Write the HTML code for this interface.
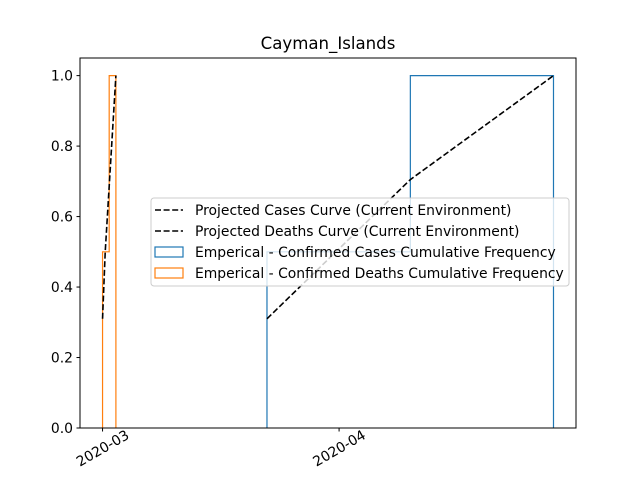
<!DOCTYPE html>
<html><head><meta charset="utf-8"><style>body{margin:0;background:#fff}svg{display:block;font-family:"DejaVu Sans","Liberation Sans",sans-serif}</style></head>
<body>
<svg id="chart" width="640" height="480" xmlns="http://www.w3.org/2000/svg">
<rect width="640" height="480" fill="#fff"/>
<g id="marks"></g>
<g id="axes"></g>
</svg>
<script>
// data (x in days since 2020-03-01)
const casesEdges = [21.55, 40.34, 59.1];
const casesCum = [0.5, 1.0];
const deathsEdges = [0, 0.87, 1.75];
const deathsCum = [0.5, 1.0];
const casesCurveX = [21.55, 40.34, 59.1];
const casesCurveY = [0.31, 0.705, 1.0];
const deathsCurveX = [0, 0.35, 1.75];
const deathsCurveY = [0.31, 0.5, 1.0];
const xTickDays = [0, 31];
const xTickLabels = ["2020-03", "2020-04"];
const yTicks = [0, 0.2, 0.4, 0.6, 0.8, 1.0];
const yTickLabels = ["0.0", "0.2", "0.4", "0.6", "0.8", "1.0"];

const L=80,R=576,T=58,B=428;
const xmin=-2.955,xmax=62.05,ymin=0,ymax=1.05;
const X=d=>L+(d-xmin)/(xmax-xmin)*(R-L);
const Y=v=>B-(v-ymin)/(ymax-ymin)*(B-T);
const NS="http://www.w3.org/2000/svg";
function mk(tag,attrs,parent){const e=document.createElementNS(NS,tag);for(const k in attrs)e.setAttribute(k,attrs[k]);parent.appendChild(e);return e;}
const marks=document.getElementById('marks'), axes=document.getElementById('axes');

function stepPath(edges,vals){let d=`M${X(edges[0])},${Y(0)}`;for(let i=0;i<vals.length;i++){d+=` L${X(edges[i])},${Y(vals[i])} L${X(edges[i+1])},${Y(vals[i])}`;}d+=` L${X(edges[edges.length-1])},${Y(0)}`;return d;}
let p=mk('path',{d:stepPath(casesEdges,casesCum),fill:'none',stroke:'#1f77b4','stroke-width':1.2},marks);


p=mk('path',{d:stepPath(deathsEdges,deathsCum),fill:'none',stroke:'#ff7f0e','stroke-width':1.2},marks);


function line(xs,ys){return xs.map((x,i)=>(i?'L':'M')+X(x)+','+Y(ys[i])).join(' ');}
p=mk('path',{d:line(casesCurveX,casesCurveY),fill:'none',stroke:'#000','stroke-width':1.6,'stroke-dasharray':'6,2.6'},marks);


p=mk('path',{d:line(deathsCurveX,deathsCurveY),fill:'none',stroke:'#000','stroke-width':1.6,'stroke-dasharray':'6,2.6'},marks);



// frame
let f=mk('rect',{x:L,y:T,width:R-L,height:B-T,fill:'none',stroke:'#000','stroke-width':1},axes);


yTicks.forEach((v,i)=>{
  mk('line',{x1:L-3.5,x2:L,y1:Y(v),y2:Y(v),stroke:'#000'},axes);
  const t=mk('text',{x:L-7,y:Y(v)+5,'text-anchor':'end','font-size':13.9},axes);
  t.textContent=yTickLabels[i];
  
  
});
xTickDays.forEach((d,i)=>{
  mk('line',{x1:X(d),x2:X(d),y1:B,y2:B+3.5,stroke:'#000'},axes);
  const cx=X(d), cy=B+20;
  const t=mk('text',{x:cx,y:cy+5,'text-anchor':'middle','font-size':13.9,transform:`rotate(-30 ${cx} ${cy})`},axes);
  t.textContent=xTickLabels[i];
  
  
});
let title=mk('text',{x:(L+R)/2,y:49,'text-anchor':'middle','font-size':16.6},axes);
title.textContent='Cayman_Islands';



// legend
const lg=mk('g',{},axes);


mk('rect',{x:151,y:198,width:418,height:88,rx:3,fill:'#fff','fill-opacity':0.8,stroke:'#ccc'},lg);
const entries=[['Projected Cases Curve (Current Environment)','dash','#000'],['Projected Deaths Curve (Current Environment)','dash','#000'],['Emperical - Confirmed Cases Cumulative Frequency','box','#1f77b4'],['Emperical - Confirmed Deaths Cumulative Frequency','box','#ff7f0e']];
entries.forEach((e,i)=>{
  const y=210+i*21;
  if(e[1]==='dash') mk('line',{x1:155,x2:183,y1:y,y2:y,stroke:e[2],'stroke-width':1.6,'stroke-dasharray':'6,2.6'},lg);
  else mk('rect',{x:155,y:y-5,width:28,height:10,fill:'none',stroke:e[2],'stroke-width':1.2},lg);
  const t=mk('text',{x:195,y:y+5,'font-size':13.9,fill:'#000'},lg);
  t.textContent=e[0];
  
  
});
</script>
</body></html>
